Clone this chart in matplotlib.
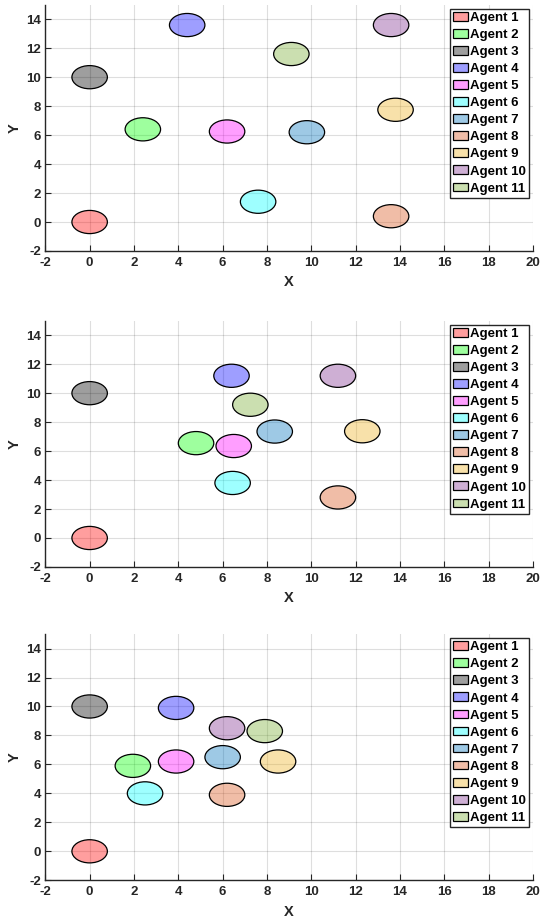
import matplotlib
matplotlib.use('Agg')
import matplotlib.pyplot as plt
from matplotlib.patches import Ellipse
from matplotlib.colors import to_rgba

plt.rcParams['font.family'] = ['Liberation Sans', 'DejaVu Sans']
plt.rcParams['font.weight'] = 'bold'
plt.rcParams['axes.unicode_minus'] = False

agents = ['Agent %d' % i for i in range(1, 12)]
colors = ['#ff0000', '#00ff00', '#000000', '#0000ff', '#ff00ff', '#00ffff',
          '#0072bd', '#d95319', '#edb120', '#7e2f8e', '#77ac30']

# agent positions for each of the three snapshots
x1 = [0, 2.4, 0, 4.4, 6.2, 7.6, 9.8, 13.6, 13.8, 13.6, 9.1]
y1 = [0, 6.4, 10, 13.6, 6.25, 1.4, 6.2, 0.4, 7.75, 13.6, 11.6]
x2 = [0, 4.8, 0, 6.4, 6.5, 6.45, 8.35, 11.2, 12.3, 11.2, 7.25]
y2 = [0, 6.55, 10, 11.2, 6.35, 3.8, 7.35, 2.8, 7.37, 11.2, 9.2]
x3 = [0, 1.95, 0, 3.9, 3.9, 2.5, 6.0, 6.2, 8.5, 6.2, 7.9]
y3 = [0, 5.9, 10, 9.9, 6.2, 4.0, 6.5, 3.9, 6.2, 8.5, 8.3]
radius = 0.8

fig = plt.figure(figsize=(5.4, 9.18), dpi=100)
dark = '#262626'
bottoms = [0.7266, 0.3824, 0.0411]
for b, xs, ys in zip(bottoms, [x1, x2, x3], [y1, y2, y3]):
    ax = fig.add_axes([0.0839, b, 0.9031, 0.2682])
    for name, c, x, y in zip(agents, colors, xs, ys):
        e = Ellipse((x, y), 2 * radius, 2 * radius, facecolor=to_rgba(c, 0.38),
                    edgecolor='black', linewidth=0.9, label=name)
        ax.add_patch(e)
    ax.set_xlim(-2, 20)
    ax.set_ylim(-2, 15)
    ax.set_xticks(range(-2, 21, 2))
    ax.set_yticks(range(-2, 15, 2))
    ax.grid(True, color='#000000', alpha=0.13, linewidth=0.8)
    ax.set_axisbelow(True)
    ax.spines['top'].set_visible(False)
    ax.spines['right'].set_visible(False)
    for s in ['left', 'bottom']:
        ax.spines[s].set_color(dark)
        ax.spines[s].set_linewidth(1.0)
    ax.tick_params(direction='in', length=4, color=dark, labelcolor=dark,
                   labelsize=9.5)
    ax.tick_params(axis='x', pad=4)
    ax.tick_params(axis='y', pad=3)
    ax.set_xlabel('X', fontsize=10.5, fontweight='bold', color=dark, labelpad=5)
    ax.set_ylabel('Y', fontsize=10.5, fontweight='bold', color=dark, labelpad=3)
    leg = ax.legend(loc='upper right', fontsize=9.5, frameon=True, fancybox=False,
                    handlelength=1.1, handleheight=0.65, handletextpad=0.15,
                    labelspacing=0.38, borderpad=0.25, borderaxespad=0.3)
    leg.get_frame().set_edgecolor(dark)
    leg.get_frame().set_linewidth(1.0)
    leg.get_frame().set_alpha(1)

plt.savefig('out.png', dpi=100)
